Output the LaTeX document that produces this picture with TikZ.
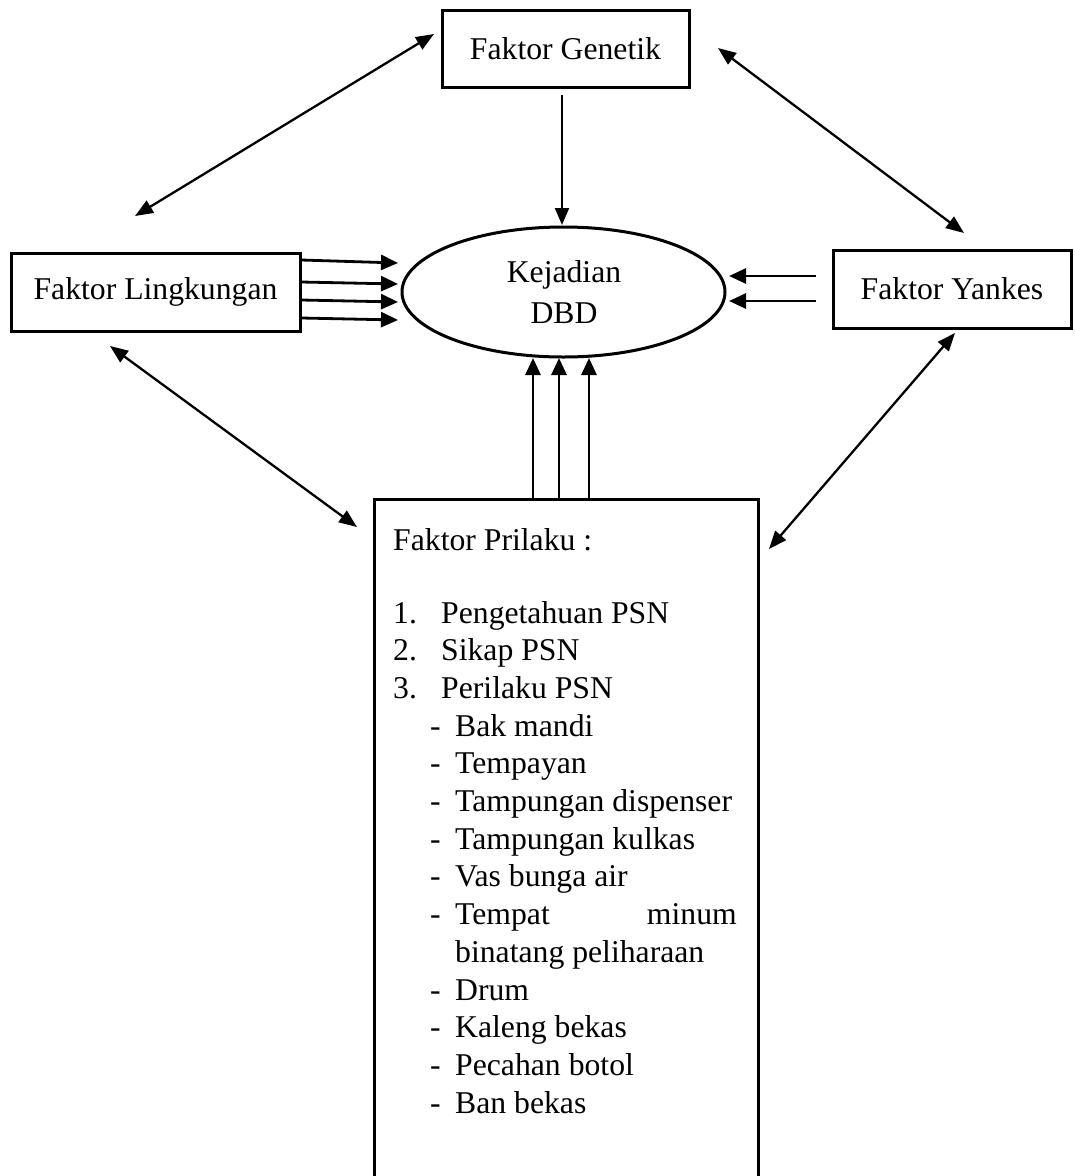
\documentclass[tikz,border=0pt]{standalone}
\usepackage{fontspec}
\setmainfont{Liberation Serif}
\usetikzlibrary{arrows.meta,shapes.geometric}
\begin{document}
\begin{tikzpicture}[x=1pt,y=-1pt,
  every node/.style={font=\fontsize{31.7}{37.7}\selectfont, inner sep=0pt},
  boxst/.style={draw, line width=3pt, rectangle, align=center},
  arr/.style={line width=2.8pt, -{Triangle[length=17pt,width=15pt]}},
  thinarr/.style={line width=2.2pt, -{Triangle[length=17pt,width=14pt]}},
  dbl/.style={line width=2.3pt, {Triangle[length=18pt,width=14pt]}-{Triangle[length=18pt,width=14pt]}},
  txt/.style={anchor=base west}]
\path[use as bounding box, clip] (0,0) rectangle (1075,1176);
\fill[white] (0,0) rectangle (1075,1176);

% boxes
\node[boxst, minimum width=247pt, minimum height=77pt] (gen) at (565.5,48.5) {Faktor Genetik};
\node[boxst, minimum width=289pt, minimum height=78pt] (ling) at (155.5,292) {Faktor Lingkungan};
\node[boxst, minimum width=238pt, minimum height=78pt] (yank) at (952,289) {Faktor Yankes};
\node[draw, ellipse, line width=3pt, minimum width=323pt, minimum height=130pt] (ell) at (563.5,292) {};
\node (kej) at (564,275) {Kejadian};
\node (dbd) at (564,313) {DBD};
\node[boxst, minimum width=384pt, minimum height=720pt, anchor=north west] (pri) at (373,498) {};

% vertical arrow from Genetik
\coordinate (gs) at (562,95);
\coordinate (gtip) at (562,225);
\draw[thinarr] (gs) -- (gtip);

% Lingkungan arrows
\coordinate (l1) at (398,263);
\coordinate (l2) at (398,284);
\coordinate (l3) at (398,302);
\coordinate (l4) at (398,320);
\draw[arr] ([yshift=3pt]ling.east |- l1) -- (l1);
\draw[arr] ([yshift=2pt]ling.east |- l2) -- (l2);
\draw[arr] ([yshift=2pt]ling.east |- l3) -- (l3);
\draw[arr] ([yshift=2pt]ling.east |- l4) -- (l4);

% Yankes arrows
\coordinate (y1) at (729,276);
\coordinate (y2) at (729,301);
\draw[arr] (yank.west |- y1) ++(-16,0) coordinate (y1s) -- (y1);
\draw[arr] (yank.west |- y2) ++(-16,0) coordinate (y2s) -- (y2);

% Prilaku arrows
\coordinate (p1) at (533,358);
\coordinate (p2) at (559,358);
\coordinate (p3) at (589,358);
\draw[arr] (pri.north -| p1) -- (p1);
\draw[arr] (pri.north -| p2) -- (p2);
\draw[arr] (pri.north -| p3) -- (p3);

% diagonal double arrows
\coordinate (d1a) at (434,34);
\coordinate (d1b) at (135,216);
\coordinate (d2a) at (718,48);
\coordinate (d2b) at (964,233);
\coordinate (d3a) at (110,346);
\coordinate (d3b) at (357,527);
\coordinate (d4a) at (955,333);
\coordinate (d4b) at (769,549);
\draw[dbl] (d1a) -- (d1b);
\draw[dbl] (d2a) -- (d2b);
\draw[dbl] (d3a) -- (d3b);
\draw[dbl] (d4a) -- (d4b);

% Prilaku text
\node[txt] (t0) at (393,550) {Faktor Prilaku :};
\node[txt] (n1) at (393,623) {1.};
\node[txt] (t1) at (441,623) {Pengetahuan PSN};
\node[txt] (n2) at (393,660.7) {2.};
\node[txt] (t2) at (441,660.7) {Sikap PSN};
\node[txt] (n3) at (393,698.4) {3.};
\node[txt] (t3) at (441,698.4) {Perilaku PSN};
\foreach \k/\s in {3/Bak mandi,4/Tempayan,5/Tampungan dispenser,6/Tampungan kulkas,7/Vas bunga air,8/Tempat,10/Drum,11/Kaleng bekas,12/Pecahan botol,13/Ban bekas}{
  \node[txt] (dash\k) at (430,623+\k*37.7) {-};
  \node[txt] (item\k) at (455,623+\k*37.7) {\s};
}
\node[anchor=base east] (minum) at (737,623+8*37.7) {minum};
\node[txt] (binatang) at (455,623+9*37.7) {binatang peliharaan};
\end{tikzpicture}
\end{document}
